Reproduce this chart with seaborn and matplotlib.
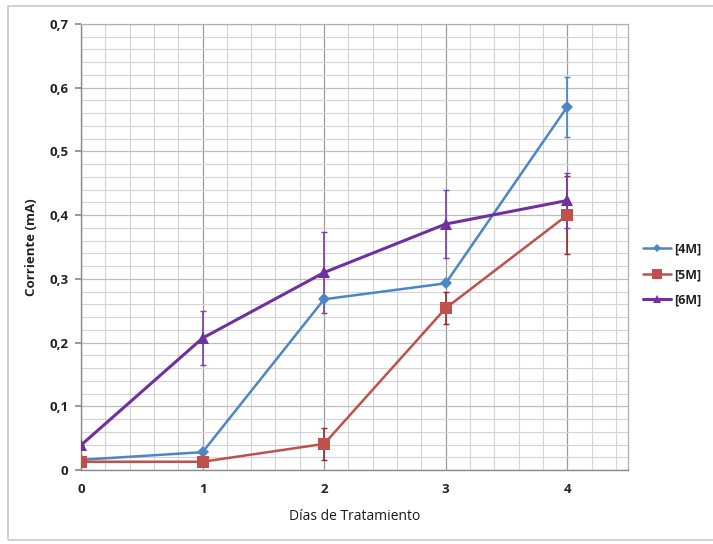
import matplotlib
matplotlib.use("Agg")
import matplotlib.pyplot as plt
import matplotlib.ticker as mticker
from matplotlib.patches import Rectangle
from matplotlib.lines import Line2D
import seaborn as sns
import pandas as pd

days = [0, 1, 2, 3, 4]
series_names = ["[4M]", "[5M]", "[6M]"]
vals_4m = [0.016, 0.028, 0.268, 0.293, 0.570]
err_4m = [0.0, 0.0, 0.0, 0.0, 0.047]
vals_5m = [0.013, 0.013, 0.041, 0.254, 0.400]
err_5m = [0.0, 0.0, 0.025, 0.025, 0.061]
vals_6m = [0.039, 0.207, 0.310, 0.386, 0.423]
err_6m = [0.0, 0.042, 0.063, 0.053, 0.043]
yticks = [0, 0.1, 0.2, 0.3, 0.4, 0.5, 0.6, 0.7]
ytick_labels = ["0", "0,1", "0,2", "0,3", "0,4", "0,5", "0,6", "0,7"]

colors = {"[4M]": "#4A86C8", "[5M]": "#C0504D", "[6M]": "#7030A0"}
ecolors = {"[4M]": "#4A86C8", "[5M]": "#8B2E2B", "[6M]": "#7A3FAF"}
markers = {"[4M]": "D", "[5M]": "s", "[6M]": "^"}
msizes = {"[4M]": 6, "[5M]": 9, "[6M]": 8}
lws = {"[4M]": 1.8, "[5M]": 1.8, "[6M]": 2.2}

df = pd.DataFrame({
    "dia": days * 3,
    "valor": vals_4m + vals_5m + vals_6m,
    "err": err_4m + err_5m + err_6m,
    "serie": [s for s in series_names for _ in days],
})

sns.set_theme(style="white")
plt.rcParams["font.family"] = ["Open Sans", "DejaVu Sans"]

fig = plt.figure(figsize=(7.13, 5.44), dpi=100)
ax = fig.add_axes([0.1136, 0.136, 0.7672, 0.8199])

ax.set_xlim(0, 4.5)
ax.set_ylim(0, 0.7)
ax.xaxis.set_major_locator(mticker.FixedLocator(days))
ax.xaxis.set_minor_locator(mticker.MultipleLocator(0.2))
ax.yaxis.set_major_locator(mticker.FixedLocator(yticks))
ax.yaxis.set_minor_locator(mticker.MultipleLocator(0.02))
ax.grid(which="major", axis="x", color="#9a9a9a", linewidth=0.9)
ax.grid(which="major", axis="y", color="#bdbdbd", linewidth=0.9)
ax.grid(which="minor", color="#d4d4d4", linewidth=0.8)
ax.set_axisbelow(True)

for s in series_names:
    d = df[df["serie"] == s]
    ax.errorbar(d["dia"], d["valor"], yerr=d["err"], fmt="none",
                ecolor=ecolors[s], elinewidth=1.2, capsize=2.5, capthick=1.0, zorder=3)

sns.lineplot(data=df, x="dia", y="valor", hue="serie", style="serie",
             palette=colors, markers=markers, dashes=False, ax=ax,
             markeredgewidth=0, zorder=4, legend=False)
for line, s in zip(ax.get_lines()[-3:], series_names):
    line.set_markersize(msizes[s])
    line.set_linewidth(lws[s])

for sp in ["top", "right"]:
    ax.spines[sp].set_color("#b0b0b0")
    ax.spines[sp].set_linewidth(0.9)
for sp in ["left", "bottom"]:
    ax.spines[sp].set_color("#8a8a8a")
    ax.spines[sp].set_linewidth(1.0)

ax.set_yticks(yticks)
ax.set_yticklabels(ytick_labels)
ax.set_xticks(days)
ax.set_xticklabels([str(d) for d in days])
ax.tick_params(axis="both", which="major", labelsize=9.5, length=4, color="#8a8a8a",
               direction="out", pad=5)
ax.tick_params(axis="both", which="minor", length=0)
ax.tick_params(axis="y", left=True)
ax.tick_params(axis="x", bottom=False)
for lab in ax.get_xticklabels() + ax.get_yticklabels():
    lab.set_fontweight("bold")
    lab.set_color("#222222")

ax.set_xlabel("Días de Tratamiento", fontsize=10, color="#1a1a1a", labelpad=10)
ax.set_ylabel("Corriente (mA)", fontsize=9.5, fontweight="bold", color="#222222", labelpad=8)

handles = [Line2D([0], [0], color=colors[s], marker=markers[s], markersize=msizes[s] * 0.75,
                  linewidth=lws[s], markeredgewidth=0) for s in series_names]
leg = fig.legend(handles, series_names, loc="center left", bbox_to_anchor=(0.895, 0.495),
                 frameon=False, fontsize=9, handlelength=2.2, handletextpad=0.3,
                 labelspacing=1.0, borderaxespad=0)
for t in leg.get_texts():
    t.set_fontweight("bold")
    t.set_color("#222222")

fig.patches.append(Rectangle((0.011, 0.008), 1.2, 0.981, transform=fig.transFigure,
                             fill=False, edgecolor="#c8c8c8", linewidth=1.2))

fig.savefig("out.png", dpi=100)
